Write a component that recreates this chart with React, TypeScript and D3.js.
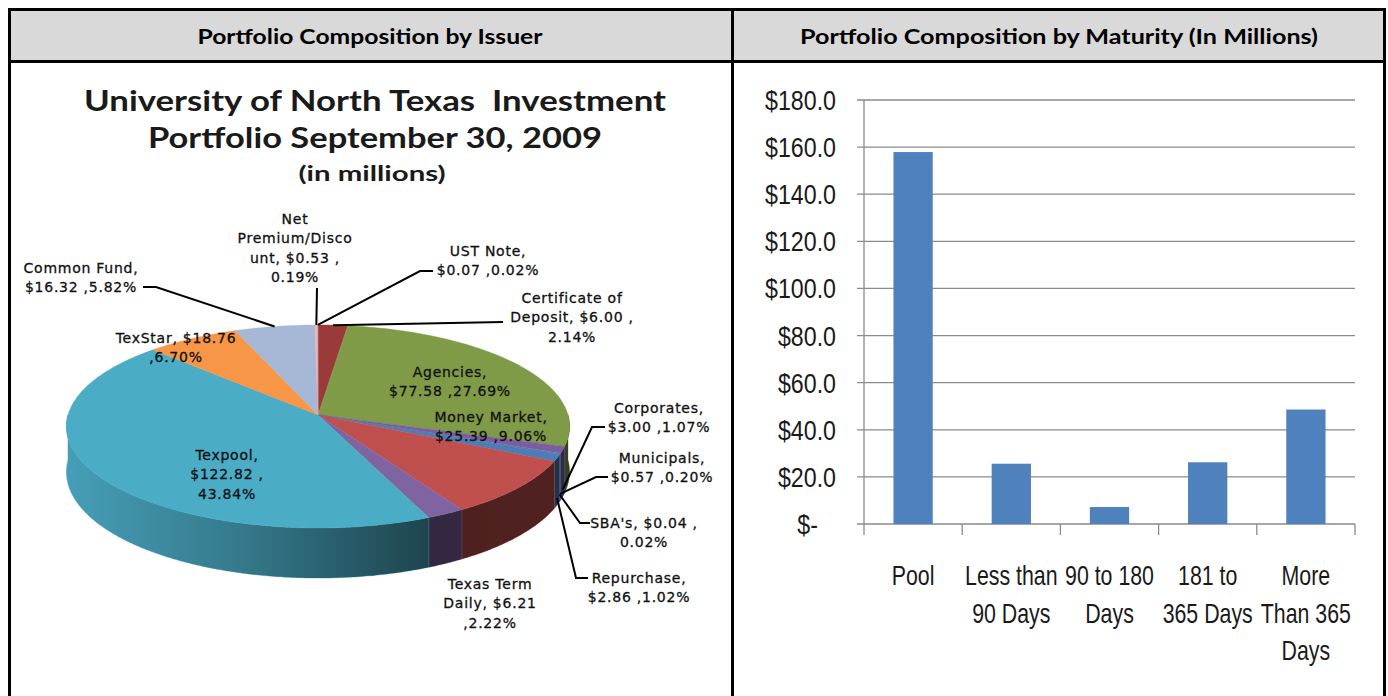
import React from "react";
import * as d3 from "d3";

// ---------- DATA ----------
const issuerNames = [
  "Certificate of Deposit", "Agencies", "Corporates", "Municipals", "SBA's", "Repurchase",
  "Money Market", "Texas Term Daily", "Texpool", "TexStar", "Common Fund", "Net Premium/Discount", "UST Note",
];
const issuerValues = [6.0, 77.58, 3.0, 0.57, 0.04, 2.86, 25.39, 6.21, 122.82, 18.76, 16.32, 0.53, 0.07];
const issuerPercents = [2.14, 27.69, 1.07, 0.2, 0.02, 1.02, 9.06, 2.22, 43.84, 6.7, 5.82, 0.19, 0.02];
const issuerColors = [
  "#9B3B39", "#7F9B48", "#7B5E9F", "#4F81BD", "#C0504D", "#4A7EBB",
  "#C0504D", "#8064A2", "#4BACC6", "#F79646", "#A7B8D7", "#E6B9B8", "#D99694",
];

const maturityCategories = [
  ["Pool"], ["Less than", "90 Days"], ["90 to 180", "Days"], ["181 to", "365 Days"], ["More", "Than 365", "Days"],
];
const maturityValues = [157.9, 25.6, 7.2, 26.2, 48.6];
const maturityTicks = [0, 20, 40, 60, 80, 100, 120, 140, 160, 180];

const leftHeader = "Portfolio Composition by Issuer";
const rightHeader = "Portfolio Composition by Maturity (In Millions)";
const titleLines = ["University of North Texas  Investment", "Portfolio September 30, 2009", "(in millions)"];

// ---------- LABEL LAYOUT ----------
const m = (v: number) => `$${v.toFixed(2)}`;
const pc = (p: number) => `${p.toFixed(2)}%`;
type LabelSpec = {
  i: number;
  lines: (n: string, v: number, p: number) => string[];
  x: number;
  y: number;
  leader?: [number, number][];
  depth?: number;
};
const labelLayout: LabelSpec[] = [
  { i: 0, lines: (n, v, p) => ["Certificate of", `Deposit, ${m(v)} ,`, pc(p)], x: 572, y: 303, leader: [[503, 322]] },
  { i: 1, lines: (n, v, p) => [`${n},`, `${m(v)} ,${pc(p)}`], x: 450, y: 377 },
  { i: 2, lines: (n, v, p) => [`${n},`, `${m(v)} ,${pc(p)}`], x: 659, y: 413, leader: [[605, 427], [592, 427]], depth: 0.85 },
  { i: 3, lines: (n, v, p) => [`${n},`, `${m(v)} ,${pc(p)}`], x: 662, y: 463, leader: [[608, 477], [596, 477]], depth: 0.85 },
  { i: 4, lines: (n, v, p) => [`${n}, ${m(v)} ,`, pc(p)], x: 644, y: 528, leader: [[590, 523], [580, 523]], depth: 0.85 },
  { i: 5, lines: (n, v, p) => [`${n},`, `${m(v)} ,${pc(p)}`], x: 639, y: 583, leader: [[588, 578], [576, 578]], depth: 0.85 },
  { i: 6, lines: (n, v, p) => [`${n},`, `${m(v)} ,${pc(p)}`], x: 491, y: 422 },
  { i: 7, lines: (n, v, p) => ["Texas Term", `Daily, ${m(v)}`, `,${pc(p)}`], x: 490, y: 589 },
  { i: 8, lines: (n, v, p) => [`${n},`, `${m(v)} ,`, pc(p)], x: 227, y: 460 },
  { i: 9, lines: (n, v, p) => [`${n}, ${m(v)}`, `,${pc(p)}`], x: 176, y: 343 },
  { i: 10, lines: (n, v, p) => [`${n},`, `${m(v)} ,${pc(p)}`], x: 81, y: 273, leader: [[143, 287], [156, 287]] },
  { i: 11, lines: (n, v, p) => ["Net", "Premium/Disco", `unt, ${m(v)} ,`, pc(p)], x: 295, y: 224, leader: [[317, 288]] },
  { i: 12, lines: (n, v, p) => [`${n},`, `${m(v)} ,${pc(p)}`], x: 488, y: 256, leader: [[433, 271], [420, 271]] },
];

// ---------- PIE GEOMETRY ----------
const CX = 318, CY = 415, RX = 250, RY = 101.5, K = 0.113, DEPTH = 45;
const proj = (t: number, d = 0): [number, number] => {
  const z = -Math.cos(t);
  const s = 1 + K * z;
  return [CX + RX * Math.sin(t) * s, CY + RY * z * s + d * DEPTH * s];
};
const arcPts = (a0: number, a1: number, d = 0) => {
  const n = Math.max(2, Math.ceil((a1 - a0) / 0.01));
  const pts: [number, number][] = [];
  for (let k = 0; k <= n; k++) pts.push(proj(a0 + ((a1 - a0) * k) / n, d));
  return pts;
};
const toPath = (pts: [number, number][]) => "M" + pts.map((p) => p[0].toFixed(2) + "," + p[1].toFixed(2)).join("L") + "Z";

function PieChart() {
  const arcs = d3.pie<number>().sort(null).value((d) => d)(issuerValues);
  const sides: any[] = [];
  const tops: any[] = [];
  arcs.forEach((a, i) => {
    const s = Math.max(a.startAngle, Math.PI / 2);
    const e = Math.min(a.endAngle, (3 * Math.PI) / 2);
    if (e > s) {
      const top = arcPts(s, e, 0);
      const bot = arcPts(s, e, 1).reverse();
      const d = toPath([...top, ...bot]);
      sides.push(
        <g key={"s" + i}>
          <path d={d} fill={issuerColors[i]} stroke={issuerColors[i]} strokeWidth={0.5} />
          <path d={d} fill="url(#sideShade)" />
        </g>
      );
    }
    const pts: [number, number][] = [[CX, CY], ...arcPts(a.startAngle, a.endAngle, 0)];
    tops.push(<path key={"t" + i} d={toPath(pts)} fill={issuerColors[i]} stroke={issuerColors[i]} strokeWidth={0.4} />);
  });

  const line = d3.line();
  const labels = labelLayout.map((L) => {
    const a = arcs[L.i];
    const mid = (a.startAngle + a.endAngle) / 2;
    const lines = L.lines(issuerNames[L.i], issuerValues[L.i], issuerPercents[L.i]);
    let leader = null;
    if (L.leader) {
      const anchor = proj(mid, L.depth || 0);
      const pts = [...L.leader, anchor] as [number, number][];
      leader = <path d={line(pts) || ""} fill="none" stroke="#000" strokeWidth={2} />;
    }
    return (
      <g key={"l" + L.i}>
        {leader}
        <text x={L.x} y={L.y} textAnchor="middle" fontFamily="'DejaVu Sans', sans-serif" fontSize={14} letterSpacing={0.75} fill="#111" stroke="#111" strokeWidth={0.3}>
          {lines.map((t, k) => (
            <tspan key={k} x={L.x} y={L.y + k * 19.3}>{t}</tspan>
          ))}
        </text>
      </g>
    );
  });

  return (
    <g>
      <defs>
        <linearGradient id="sideShade" gradientUnits="userSpaceOnUse" x1={CX - RX} x2={CX + RX} y1={0} y2={0}>
          <stop offset="0" stopColor="#000" stopOpacity={0.08} />
          <stop offset="0.35" stopColor="#000" stopOpacity={0.3} />
          <stop offset="0.72" stopColor="#000" stopOpacity={0.6} />
          <stop offset="1" stopColor="#000" stopOpacity={0.58} />
        </linearGradient>
      </defs>
      {sides}
      {tops}
      {labels}
    </g>
  );
}

// ---------- BAR CHART ----------
const X0 = 864, X1 = 1355, Y0 = 524, Y1 = 100;
const narrowFont = "'Liberation Sans', Arial, sans-serif";
function NarrowText({ x, y, text, size, sx, anchor }: { x: number; y: number; text: string; size: number; sx: number; anchor: string }) {
  return (
    <text transform={`translate(${x},${y}) scale(${sx},1)`} textAnchor={anchor} fontFamily={narrowFont} fontSize={size} fill="#1a1a1a">
      {text}
    </text>
  );
}
function BarChart() {
  const x = d3.scaleBand<number>().domain(maturityValues.map((_, i) => i)).range([X0, X1]).paddingInner(0.6).paddingOuter(0.3);
  const y = d3.scaleLinear().domain([0, 180]).range([Y0, Y1]);
  const step = x.step();
  const boundaries = d3.range(maturityValues.length + 1).map((k) => X0 + k * step);
  return (
    <g>
      {maturityTicks.map((t) => (
        <g key={t}>
          <line x1={857} x2={X1} y1={y(t)} y2={y(t)} stroke="#8a8a8a" strokeWidth={1.3} />
          <NarrowText x={t === 0 ? 818 : 836} y={y(t) + 10} text={t === 0 ? "$-" : `$${t.toFixed(1)}`} size={27} sx={0.86} anchor="end" />
        </g>
      ))}
      <line x1={X0} x2={X0} y1={Y1} y2={Y0} stroke="#8a8a8a" strokeWidth={1.3} />
      {boundaries.map((b, k) => (
        <line key={k} x1={b} x2={b} y1={Y0} y2={Y0 + 11} stroke="#8a8a8a" strokeWidth={1.3} />
      ))}
      {maturityValues.map((v, i) => (
        <rect key={i} x={x(i)} y={y(v)} width={x.bandwidth()} height={Y0 - y(v)} fill="#4F81BD" />
      ))}
      {maturityCategories.map((lines, i) => {
        const cx = (x(i) || 0) + x.bandwidth() / 2;
        return (
          <g key={i}>
            {lines.map((t, k) => (
              <NarrowText key={k} x={cx} y={585 + k * 37.5} text={t} size={27} sx={0.79} anchor="middle" />
            ))}
          </g>
        );
      })}
    </g>
  );
}

export default function App() {
  const hFont = "Lato, 'Open Sans', sans-serif";
  return (
    <svg width={1388} height={696} style={{ position: "absolute", left: 0, top: 0, display: "block", background: "#fff" }}>
      <rect x={0} y={0} width={1388} height={696} fill="#fff" />
      {/* header cells */}
      <rect x={10} y={10} width={721} height={50} fill="#D9D9D9" />
      <rect x={734} y={10} width={650} height={50} fill="#D9D9D9" />
      <text x={370} y={44} textAnchor="middle" fontFamily={hFont} fontWeight={700} fontSize={20} textLength={345} lengthAdjust="spacingAndGlyphs" fill="#000">
        {leftHeader}
      </text>
      <text x={1059} y={44} textAnchor="middle" fontFamily={hFont} fontWeight={700} fontSize={20} textLength={518} lengthAdjust="spacingAndGlyphs" fill="#000">
        {rightHeader}
      </text>
      {/* borders */}
      <line x1={8} x2={1386} y1={9.5} y2={9.5} stroke="#000" strokeWidth={3} />
      <line x1={8} x2={1386} y1={61.5} y2={61.5} stroke="#000" strokeWidth={3} />
      <line x1={9.5} x2={9.5} y1={8} y2={696} stroke="#000" strokeWidth={3} />
      <line x1={732.5} x2={732.5} y1={8} y2={696} stroke="#000" strokeWidth={3} />
      <line x1={1384.5} x2={1384.5} y1={8} y2={696} stroke="#000" strokeWidth={3} />
      {/* pie title */}
      <text x={375} y={111} textAnchor="middle" fontFamily={hFont} fontWeight={700} fontSize={28} textLength={582} lengthAdjust="spacingAndGlyphs" fill="#1a1a1a" style={{ whiteSpace: "pre" }}>
        {titleLines[0]}
      </text>
      <text x={375} y={148} textAnchor="middle" fontFamily={hFont} fontWeight={700} fontSize={28} textLength={454} lengthAdjust="spacingAndGlyphs" fill="#1a1a1a">
        {titleLines[1]}
      </text>
      <text x={372} y={181} textAnchor="middle" fontFamily={hFont} fontWeight={700} fontSize={21} textLength={147} lengthAdjust="spacingAndGlyphs" fill="#1a1a1a">
        {titleLines[2]}
      </text>
      <PieChart />
      <BarChart />
    </svg>
  );
}
